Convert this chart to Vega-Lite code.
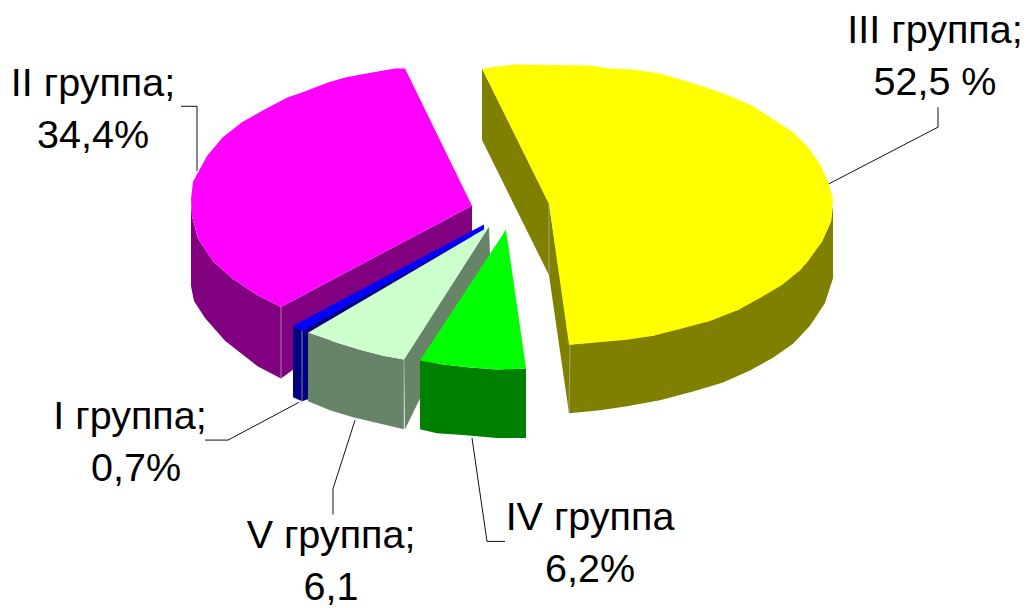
{"$schema":"https://vega.github.io/schema/vega-lite/v6.json","autosize":{"type":"fit","contains":"padding"},"width":1028,"height":608,"padding":0,"background":"white","view":{"stroke":null},
"datasets":{"faces":[
{"part":"II side outer","face":"II side","i":1,"x":191,"y":200},{"part":"II side outer","face":"II side","i":2,"x":192,"y":218},{"part":"II side outer","face":"II side","i":3,"x":198,"y":240},{"part":"II side outer","face":"II side","i":4,"x":213,"y":263},{"part":"II side outer","face":"II side","i":5,"x":232,"y":280},{"part":"II side outer","face":"II side","i":6,"x":257,"y":297},{"part":"II side outer","face":"II side","i":7,"x":281,"y":309},{"part":"II side outer","face":"II side","i":8,"x":281,"y":381},{"part":"II side outer","face":"II side","i":9,"x":258,"y":369},{"part":"II side outer","face":"II side","i":10,"x":225,"y":343},{"part":"II side outer","face":"II side","i":11,"x":205,"y":320},{"part":"II side outer","face":"II side","i":12,"x":194,"y":303},{"part":"II side outer","face":"II side","i":13,"x":191,"y":288},
{"part":"II side flat","face":"II side","i":1,"x":281,"y":309},{"part":"II side flat","face":"II side","i":2,"x":472,"y":207},{"part":"II side flat","face":"II side","i":3,"x":472,"y":240},{"part":"II side flat","face":"II side","i":4,"x":281,"y":381},
{"part":"II top","face":"II top","i":1,"x":472,"y":207},{"part":"II top","face":"II top","i":2,"x":405,"y":69},{"part":"II top","face":"II top","i":3,"x":395,"y":69},{"part":"II top","face":"II top","i":4,"x":372,"y":73},{"part":"II top","face":"II top","i":5,"x":345,"y":78},{"part":"II top","face":"II top","i":6,"x":328,"y":83},{"part":"II top","face":"II top","i":7,"x":302,"y":93},{"part":"II top","face":"II top","i":8,"x":288,"y":98},{"part":"II top","face":"II top","i":9,"x":265,"y":110},{"part":"II top","face":"II top","i":10,"x":242,"y":123},{"part":"II top","face":"II top","i":11,"x":223,"y":138},{"part":"II top","face":"II top","i":12,"x":207,"y":157},{"part":"II top","face":"II top","i":13,"x":193,"y":183},{"part":"II top","face":"II top","i":14,"x":191,"y":200},{"part":"II top","face":"II top","i":15,"x":192,"y":218},{"part":"II top","face":"II top","i":16,"x":198,"y":240},{"part":"II top","face":"II top","i":17,"x":213,"y":263},{"part":"II top","face":"II top","i":18,"x":232,"y":280},{"part":"II top","face":"II top","i":19,"x":257,"y":297},{"part":"II top","face":"II top","i":20,"x":281,"y":309},
{"part":"I side a","face":"I side","i":1,"x":293,"y":328},{"part":"I side a","face":"I side","i":2,"x":302,"y":333},{"part":"I side a","face":"I side","i":3,"x":302,"y":404},{"part":"I side a","face":"I side","i":4,"x":293,"y":400},
{"part":"I side b","face":"I side","i":1,"x":302,"y":333},{"part":"I side b","face":"I side","i":2,"x":484,"y":231},{"part":"I side b","face":"I side","i":3,"x":484,"y":236},{"part":"I side b","face":"I side","i":4,"x":308,"y":335},{"part":"I side b","face":"I side","i":5,"x":308,"y":402},{"part":"I side b","face":"I side","i":6,"x":302,"y":404},
{"part":"I top","face":"I top","i":1,"x":293,"y":328},{"part":"I top","face":"I top","i":2,"x":484,"y":226},{"part":"I top","face":"I top","i":3,"x":484,"y":231},{"part":"I top","face":"I top","i":4,"x":302,"y":333},
{"part":"V side flat","face":"V side","i":1,"x":404,"y":362},{"part":"V side flat","face":"V side","i":2,"x":489,"y":228},{"part":"V side flat","face":"V side","i":3,"x":490,"y":257},{"part":"V side flat","face":"V side","i":4,"x":405,"y":432},
{"part":"V side outer","face":"V side","i":1,"x":308,"y":335},{"part":"V side outer","face":"V side","i":2,"x":337,"y":345},{"part":"V side outer","face":"V side","i":3,"x":360,"y":352},{"part":"V side outer","face":"V side","i":4,"x":383,"y":358},{"part":"V side outer","face":"V side","i":5,"x":404,"y":362},{"part":"V side outer","face":"V side","i":6,"x":404,"y":432},{"part":"V side outer","face":"V side","i":7,"x":387,"y":428},{"part":"V side outer","face":"V side","i":8,"x":353,"y":420},{"part":"V side outer","face":"V side","i":9,"x":330,"y":413},{"part":"V side outer","face":"V side","i":10,"x":308,"y":404},
{"part":"V top","face":"V top","i":1,"x":489,"y":228},{"part":"V top","face":"V top","i":2,"x":404,"y":362},{"part":"V top","face":"V top","i":3,"x":383,"y":358},{"part":"V top","face":"V top","i":4,"x":360,"y":352},{"part":"V top","face":"V top","i":5,"x":337,"y":345},{"part":"V top","face":"V top","i":6,"x":308,"y":335},
{"part":"IV side","face":"IV side","i":1,"x":420,"y":363},{"part":"IV side","face":"IV side","i":2,"x":443,"y":367},{"part":"IV side","face":"IV side","i":3,"x":470,"y":370},{"part":"IV side","face":"IV side","i":4,"x":497,"y":372},{"part":"IV side","face":"IV side","i":5,"x":526,"y":371},{"part":"IV side","face":"IV side","i":6,"x":526,"y":441},{"part":"IV side","face":"IV side","i":7,"x":497,"y":441},{"part":"IV side","face":"IV side","i":8,"x":463,"y":438},{"part":"IV side","face":"IV side","i":9,"x":437,"y":436},{"part":"IV side","face":"IV side","i":10,"x":420,"y":432},
{"part":"IV top","face":"IV top","i":1,"x":506,"y":231},{"part":"IV top","face":"IV top","i":2,"x":526,"y":371},{"part":"IV top","face":"IV top","i":3,"x":497,"y":372},{"part":"IV top","face":"IV top","i":4,"x":470,"y":370},{"part":"IV top","face":"IV top","i":5,"x":443,"y":367},{"part":"IV top","face":"IV top","i":6,"x":420,"y":363},
{"part":"III side left","face":"III side","i":1,"x":482,"y":69},{"part":"III side left","face":"III side","i":2,"x":549,"y":205},{"part":"III side left","face":"III side","i":3,"x":549,"y":277},{"part":"III side left","face":"III side","i":4,"x":482,"y":141},
{"part":"III side inner","face":"III side","i":1,"x":549,"y":205},{"part":"III side inner","face":"III side","i":2,"x":570,"y":347},{"part":"III side inner","face":"III side","i":3,"x":569,"y":416},{"part":"III side inner","face":"III side","i":4,"x":549,"y":277},
{"part":"III side outer","face":"III side","i":1,"x":569,"y":347},{"part":"III side outer","face":"III side","i":2,"x":653,"y":338},{"part":"III side outer","face":"III side","i":3,"x":738,"y":312},{"part":"III side outer","face":"III side","i":4,"x":800,"y":272},{"part":"III side outer","face":"III side","i":5,"x":822,"y":243},{"part":"III side outer","face":"III side","i":6,"x":831,"y":223},{"part":"III side outer","face":"III side","i":7,"x":833,"y":207},{"part":"III side outer","face":"III side","i":8,"x":833,"y":280},{"part":"III side outer","face":"III side","i":9,"x":825,"y":305},{"part":"III side outer","face":"III side","i":10,"x":810,"y":328},{"part":"III side outer","face":"III side","i":11,"x":793,"y":346},{"part":"III side outer","face":"III side","i":12,"x":773,"y":360},{"part":"III side outer","face":"III side","i":13,"x":750,"y":373},{"part":"III side outer","face":"III side","i":14,"x":723,"y":385},{"part":"III side outer","face":"III side","i":15,"x":693,"y":394},{"part":"III side outer","face":"III side","i":16,"x":660,"y":403},{"part":"III side outer","face":"III side","i":17,"x":627,"y":409},{"part":"III side outer","face":"III side","i":18,"x":600,"y":413},{"part":"III side outer","face":"III side","i":19,"x":569,"y":416},
{"part":"III top","face":"III top","i":1,"x":482,"y":69},{"part":"III top","face":"III top","i":2,"x":513,"y":65},{"part":"III top","face":"III top","i":3,"x":590,"y":66},{"part":"III top","face":"III top","i":4,"x":610,"y":69},{"part":"III top","face":"III top","i":5,"x":633,"y":70},{"part":"III top","face":"III top","i":6,"x":660,"y":74},{"part":"III top","face":"III top","i":7,"x":687,"y":82},{"part":"III top","face":"III top","i":8,"x":715,"y":91},{"part":"III top","face":"III top","i":9,"x":733,"y":98},{"part":"III top","face":"III top","i":10,"x":753,"y":107},{"part":"III top","face":"III top","i":11,"x":773,"y":120},{"part":"III top","face":"III top","i":12,"x":793,"y":133},{"part":"III top","face":"III top","i":13,"x":807,"y":147},{"part":"III top","face":"III top","i":14,"x":820,"y":165},{"part":"III top","face":"III top","i":15,"x":828,"y":183},{"part":"III top","face":"III top","i":16,"x":833,"y":200},{"part":"III top","face":"III top","i":17,"x":831,"y":223},{"part":"III top","face":"III top","i":18,"x":822,"y":243},{"part":"III top","face":"III top","i":19,"x":808,"y":263},{"part":"III top","face":"III top","i":20,"x":800,"y":272},{"part":"III top","face":"III top","i":21,"x":782,"y":287},{"part":"III top","face":"III top","i":22,"x":760,"y":300},{"part":"III top","face":"III top","i":23,"x":738,"y":312},{"part":"III top","face":"III top","i":24,"x":710,"y":323},{"part":"III top","face":"III top","i":25,"x":677,"y":332},{"part":"III top","face":"III top","i":26,"x":653,"y":338},{"part":"III top","face":"III top","i":27,"x":627,"y":342},{"part":"III top","face":"III top","i":28,"x":593,"y":345},{"part":"III top","face":"III top","i":29,"x":569,"y":347},{"part":"III top","face":"III top","i":30,"x":549,"y":205}
],
"edges":[
{"edge":"II","i":1,"x":281,"y":309},{"edge":"II","i":2,"x":281,"y":381},
{"edge":"I","i":1,"x":302,"y":333},{"edge":"I","i":2,"x":302,"y":404},
{"edge":"V","i":1,"x":404,"y":362},{"edge":"V","i":2,"x":404,"y":432},
{"edge":"III","i":1,"x":549,"y":205},{"edge":"III","i":2,"x":549,"y":277},
{"edge":"III b","i":1,"x":570,"y":347},{"edge":"III b","i":2,"x":569,"y":416}
],
"leaders":[
{"group":"III","i":1,"x":829,"y":185},{"group":"III","i":2,"x":938,"y":128},{"group":"III","i":3,"x":938,"y":108},
{"group":"II","i":1,"x":181,"y":107},{"group":"II","i":2,"x":197,"y":107},{"group":"II","i":3,"x":197,"y":172},
{"group":"I","i":1,"x":205,"y":443},{"group":"I","i":2,"x":228,"y":443},{"group":"I","i":3,"x":299,"y":405},
{"group":"V","i":1,"x":333,"y":518},{"group":"V","i":2,"x":333,"y":492},{"group":"V","i":3,"x":355,"y":423},
{"group":"IV","i":1,"x":472,"y":441},{"group":"IV","i":2,"x":487,"y":545},{"group":"IV","i":3,"x":505,"y":545}
],
"labels":[
{"label":"III группа;\n52,5 %","x":935,"y":43},
{"label":"II группа;\n34,4%","x":93,"y":97},
{"label":"I группа;","x":130,"y":432},
{"label":"0,7%","x":136,"y":484},
{"label":"V группа;\n6,1","x":331,"y":552},
{"label":"IV группа\n6,2%","x":590,"y":534}
]},
"layer":[
{"data":{"name":"faces"},"mark":{"type":"line","filled":true,"interpolate":"linear-closed","strokeWidth":0},
"encoding":{"x":{"field":"x","type":"quantitative","scale":{"domain":[0,1028],"nice":false,"zero":false},"axis":null},"y":{"field":"y","type":"quantitative","scale":{"domain":[608,0],"nice":false,"zero":false},"axis":null},"order":{"field":"i"},"detail":{"field":"part"},
"color":{"field":"face","type":"nominal","legend":null,"scale":{"domain":["II side","II top","I side","I top","V side","V top","IV side","IV top","III side","III top"],"range":["#800080","#ff00ff","#000080","#0000ff","#688468","#ccffcc","#008000","#00ff00","#808000","#ffff00"]}}}},
{"data":{"name":"edges"},"mark":{"type":"line","stroke":"#b8b8b8","strokeWidth":1,"opacity":0.7},
"encoding":{"x":{"field":"x","type":"quantitative"},"y":{"field":"y","type":"quantitative"},"order":{"field":"i"},"detail":{"field":"edge"}}},
{"data":{"name":"leaders"},"mark":{"type":"line","stroke":"#111111","strokeWidth":1},
"encoding":{"x":{"field":"x","type":"quantitative"},"y":{"field":"y","type":"quantitative"},"order":{"field":"i"},"detail":{"field":"group"}}},
{"data":{"name":"labels"},"mark":{"type":"text","font":"Liberation Sans","fontSize":39.5,"lineBreak":"\n","lineHeight":52,"align":"center","baseline":"alphabetic","color":"#000000"},
"encoding":{"x":{"field":"x","type":"quantitative"},"y":{"field":"y","type":"quantitative"},"text":{"field":"label"}}}
]}
